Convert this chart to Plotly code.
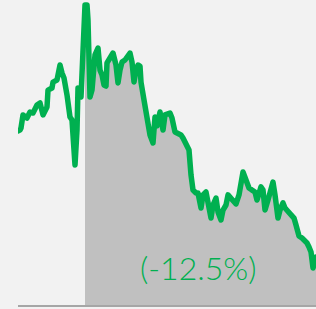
import plotly.graph_objects as go

days = [0, 2, 3, 5, 9, 12, 15, 19, 22, 25, 29, 30, 34, 35, 39, 42, 44, 46, 49, 52,
        54, 57, 59, 60, 63, 65, 67, 69, 70, 72, 74, 77, 80, 82, 84, 86, 88, 89, 92, 95,
        98, 100, 102, 104, 107, 109, 112, 114, 116, 118, 120, 122, 123, 126, 128, 130, 132, 135, 137, 139,
        142, 145, 147, 152, 154, 157, 160, 163, 165, 169, 171, 173, 175, 178, 180, 183, 185, 188, 190, 193,
        195, 198, 200, 203, 205, 208, 210, 213, 215, 218, 221, 223, 225, 228, 231, 234, 237, 239, 241, 243,
        245, 247, 250, 253, 255, 257, 260, 262, 265, 267, 270, 273, 276, 278, 281, 284, 286, 289, 291, 293,
        295, 298]
prices = [94.02, 94.06, 94.16, 94.78, 94.63, 94.92, 94.87, 95.25, 95.35, 94.78, 95.16, 95.96, 96.06, 96.34, 96.44, 97.15, 96.77, 96.53, 95.73, 94.68,
          94.54, 92.40, 94.06, 96.06, 95.63, 97.86, 100.00, 100.00, 99.29, 95.63, 95.96, 97.63, 97.96, 96.91, 96.68, 96.20, 96.15, 97.25, 97.48, 97.72,
          97.15, 96.30, 96.91, 97.29, 97.39, 97.58, 97.72, 97.29, 96.34, 96.91, 97.15, 97.10, 96.34, 95.49, 94.92, 94.16, 93.83, 93.45, 94.68, 94.26,
          94.92, 94.06, 94.78, 94.87, 94.63, 93.97, 93.92, 93.83, 93.68, 93.35, 93.11, 91.93, 91.21, 91.07, 91.07, 90.36, 90.98, 91.12, 90.50, 89.88,
          90.50, 90.83, 90.17, 89.79, 90.26, 90.50, 90.98, 90.83, 90.74, 90.55, 90.98, 91.69, 92.07, 91.69, 91.31, 91.21, 91.12, 90.74, 90.98, 91.36,
          91.21, 90.26, 90.74, 91.21, 91.59, 90.98, 89.88, 90.26, 90.60, 90.36, 90.17, 90.07, 89.88, 89.55, 89.03, 88.93, 88.84, 88.70, 88.51, 88.27,
          87.51, 88.03]
fill_start_day = 67
change_label = "(-12.5%)"

GREEN = "#00b050"
BG = "#f2f2f2"

fill_days = [d for d in days if d >= fill_start_day]
fill_prices = [p for d, p in zip(days, prices) if d >= fill_start_day]

fig = go.Figure()
fig.add_trace(go.Scatter(x=fill_days, y=fill_prices, mode="lines", line=dict(width=0),
                         fill="tozeroy", fillcolor="#c0c0c0", hoverinfo="skip"))
fig.add_trace(go.Scatter(x=days, y=prices, mode="lines",
                         line=dict(color=GREEN, width=5.5, shape="linear")))

fig.add_annotation(x=180, y=87.55, text=change_label, showarrow=False,
                   xanchor="center", yanchor="middle",
                   font=dict(family="Lato", size=32, color=GREEN, weight=300))

fig.update_layout(
    width=316, height=309,
    margin=dict(l=18, r=0, t=0, b=4),
    paper_bgcolor=BG, plot_bgcolor=BG,
    showlegend=False,
    xaxis=dict(range=[0, 298], showgrid=False, zeroline=False, showticklabels=False,
               showline=True, linecolor="#a6a6a6", linewidth=2, ticks=""),
    yaxis=dict(range=[85.75, 100.24], showgrid=False, zeroline=False, showticklabels=False,
               showline=False, ticks=""),
)

fig.write_html("out.html",
               config={"displayModeBar": False, "staticPlot": True},
               post_script="document.body.style.margin='0';document.body.style.overflow='hidden';"
                           "document.querySelectorAll('path.js-line').forEach(function(p){p.style.strokeLinejoin='round';p.style.strokeLinecap='round';});")
